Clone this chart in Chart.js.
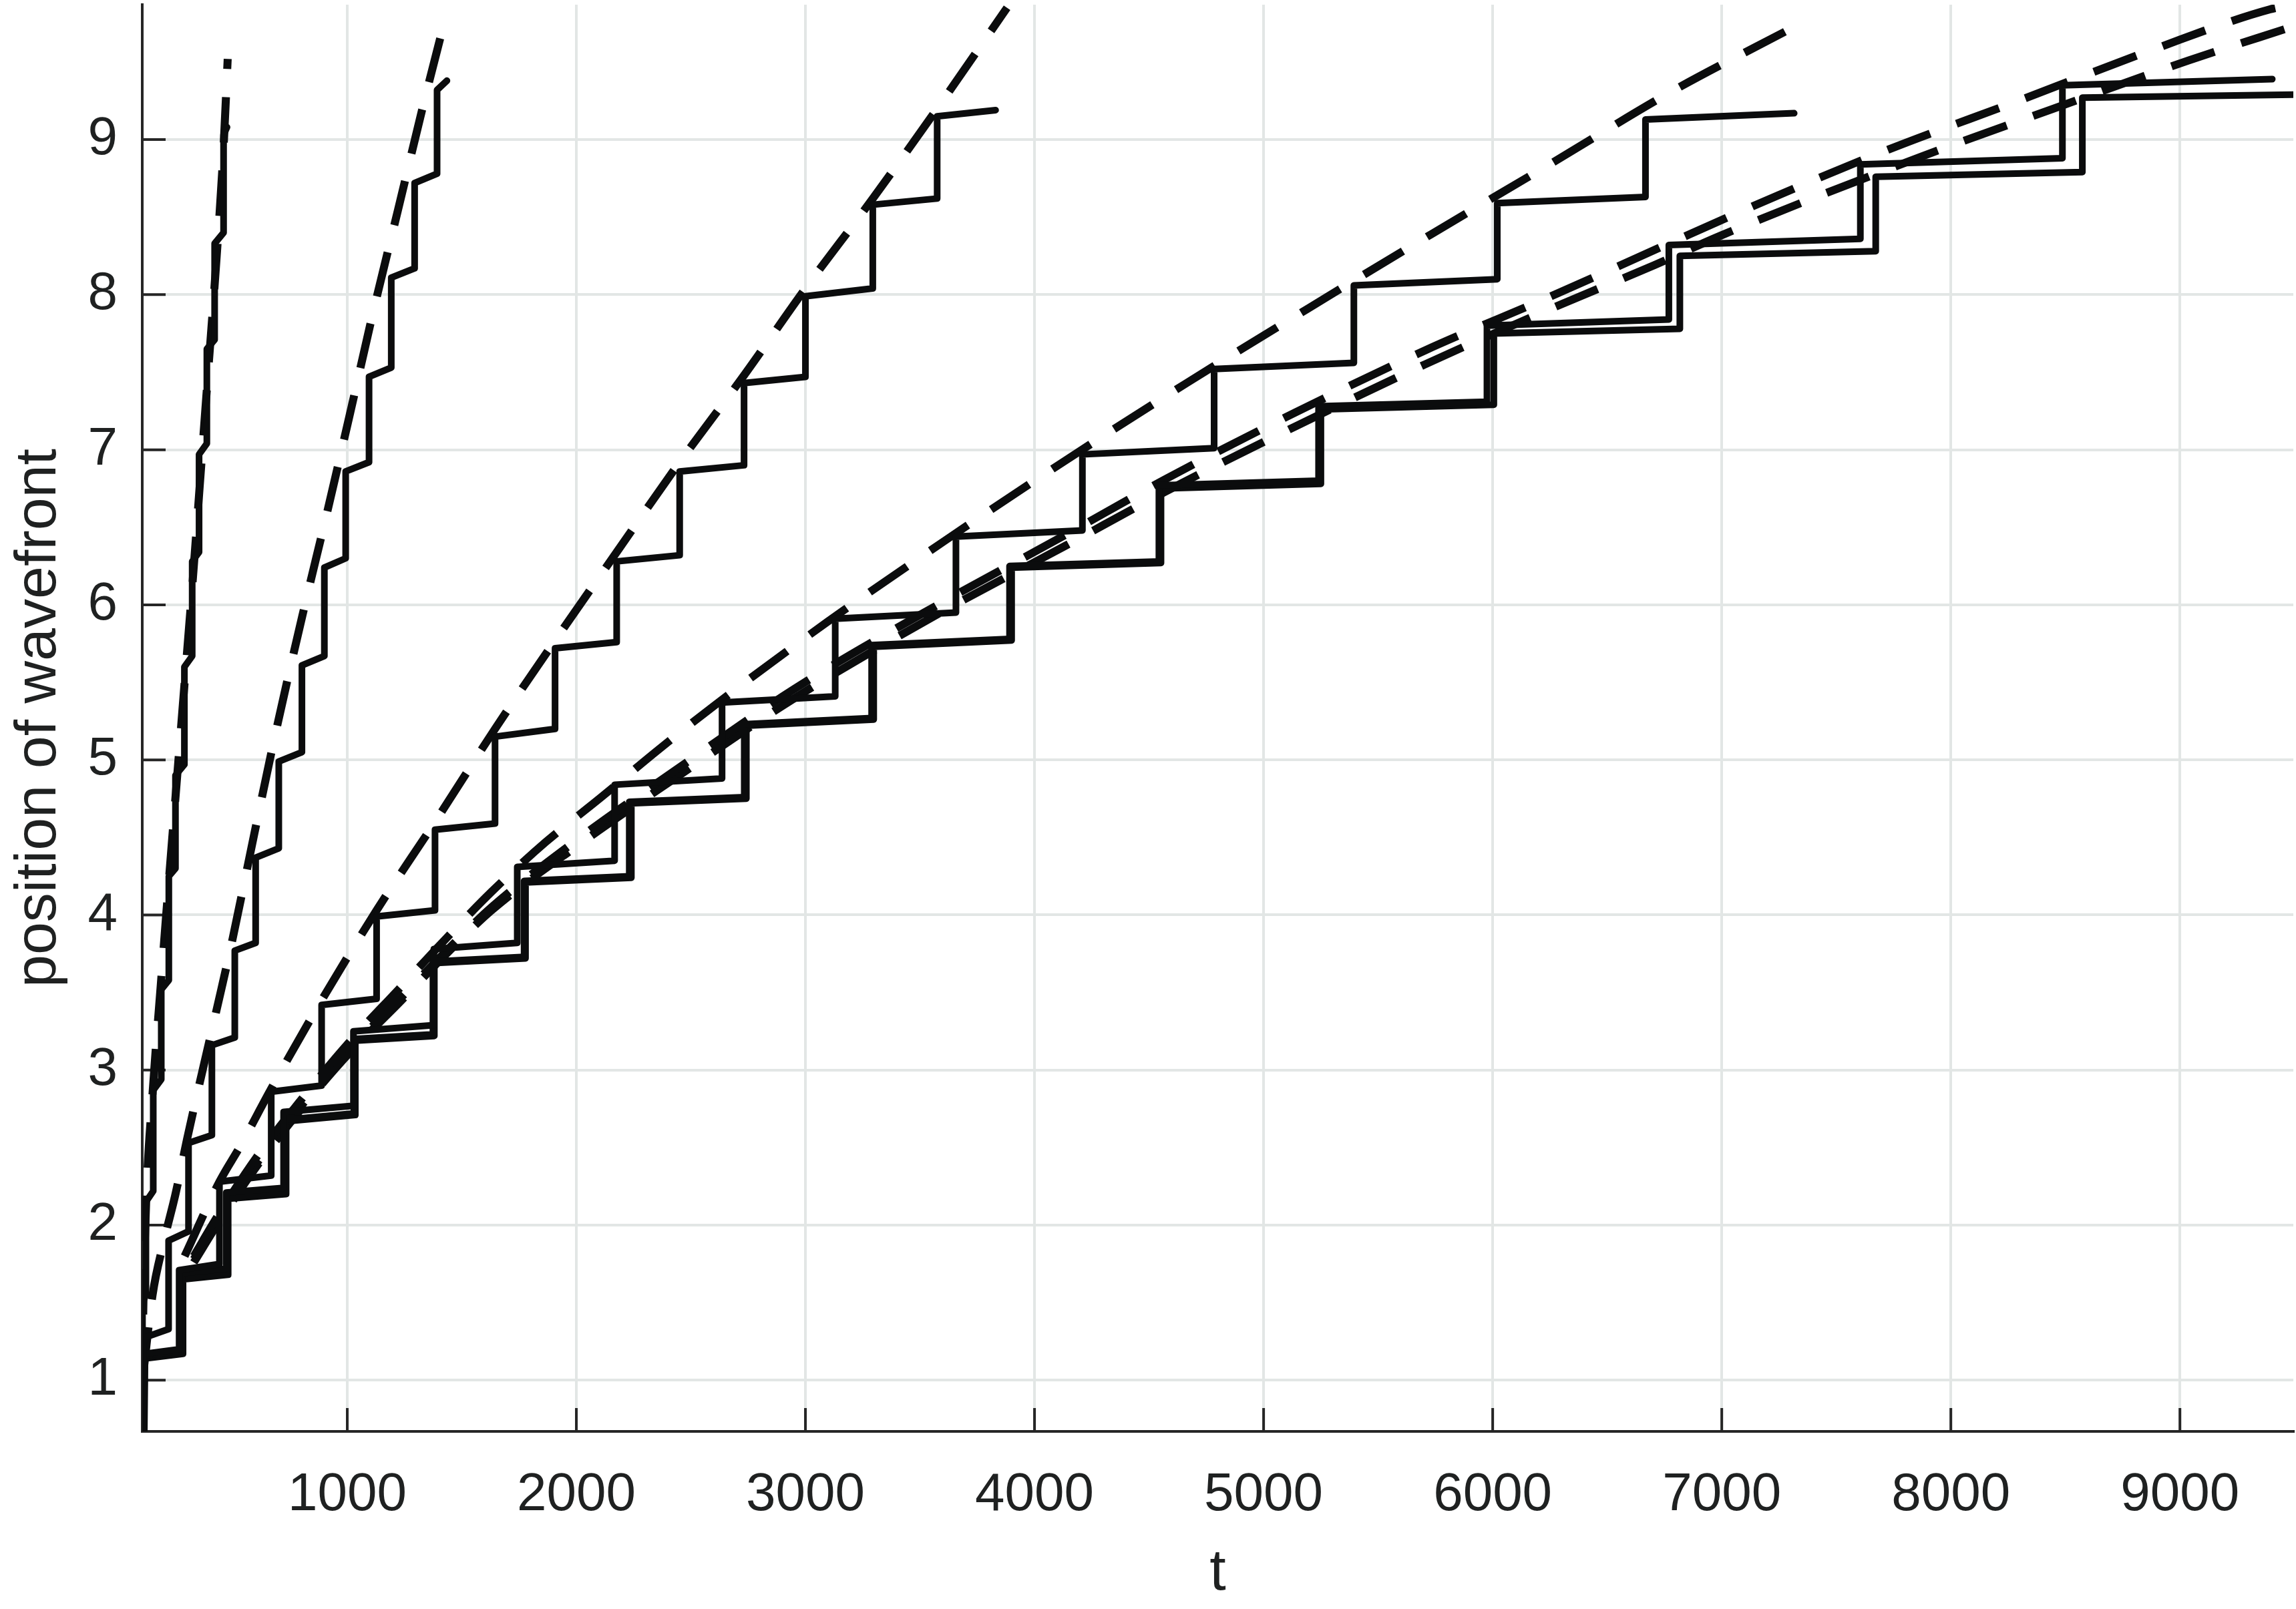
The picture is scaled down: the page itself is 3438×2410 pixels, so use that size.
<!DOCTYPE html>
<html>
<head>
<meta charset="utf-8">
<script src="https://cdn.jsdelivr.net/npm/chart.js@4.4.1/dist/chart.umd.min.js"></script>
<style>
  html, body { margin: 0; padding: 0; background: #fff; }
  #wrap { width: 3438px; height: 2410px; }
</style>
</head>
<body>
<div id="wrap"><canvas id="chart" width="3438" height="2410"></canvas></div>
<script>
// axis ranges and ticks
const xRange = [105, 9495];
const yRange = [0.67, 9.87];
const xTicks = [1000, 2000, 3000, 4000, 5000, 6000, 7000, 8000, 9000];
const yTicks = [1, 2, 3, 4, 5, 6, 7, 8, 9];

// measured wavefront positions (step curves), [t, position]
const stepA = [[105,0.68],[106,1.5],[121,1.55],[121,2.15],[153,2.22],[153,2.87],[188,2.94],[188,3.52],[221,3.58],
  [221,4.25],[250,4.3],[250,4.9],[289,4.97],[289,5.6],[323,5.67],[323,6.28],[353,6.34],[353,6.97],[387,7.04],
  [387,7.65],[421,7.71],[421,8.33],[460,8.4],[460,9.03],[475,9.08]];
const stepB = [[108,0.68],[110,1.25],[125,1.28],[220,1.33],[220,1.9],[307,1.96],[307,2.53],[409,2.58],[409,3.16],
  [509,3.21],[509,3.77],[600,3.82],[600,4.37],[701,4.43],[701,4.99],[802,5.05],[802,5.61],[900,5.67],[900,6.24],
  [993,6.3],[993,6.86],[1095,6.92],[1095,7.47],[1192,7.53],[1192,8.11],[1294,8.17],[1294,8.72],[1392,8.78],
  [1392,9.32],[1435,9.38]];
const stepC = [[110,0.68],[112,1.17],[266,1.2],[266,1.71],[442,1.75],[442,2.28],[668,2.32],[668,2.86],[888,2.9],
  [888,3.42],[1128,3.46],[1128,3.99],[1383,4.03],[1383,4.55],[1645,4.59],[1645,5.15],[1907,5.2],[1907,5.72],
  [2176,5.76],[2176,6.28],[2451,6.32],[2451,6.86],[2732,6.9],[2732,7.43],[3000,7.47],[3000,7.99],[3294,8.04],
  [3294,8.58],[3575,8.62],[3575,9.15],[3830,9.19]];
const stepD = [[112,0.68],[114,1.16],[279,1.19],[279,1.69],[472,1.72],[472,2.21],[722,2.24],[722,2.73],[1027,2.77],
  [1027,3.25],[1378,3.29],[1378,3.78],[1742,3.82],[1742,4.31],[2167,4.35],[2167,4.84],[2636,4.88],[2636,5.37],
  [3130,5.41],[3130,5.91],[3657,5.95],[3657,6.44],[4209,6.48],[4209,6.97],[4784,7.01],[4784,7.52],[5394,7.56],
  [5394,8.06],[6020,8.1],[6020,8.59],[6667,8.63],[6667,9.13],[7316,9.17]];
const stepE = [[112,0.68],[115,1.15],[279,1.18],[279,1.66],[475,1.69],[475,2.18],[729,2.21],[729,2.68],[1029,2.72],
  [1029,3.2],[1374,3.23],[1374,3.7],[1772,3.73],[1772,4.22],[2231,4.25],[2231,4.73],[2733,4.76],[2733,5.23],
  [3289,5.27],[3289,5.74],[3891,5.78],[3891,6.25],[4543,6.28],[4543,6.77],[5240,6.8],[5240,7.28],[5975,7.31],
  [5975,7.8],[6769,7.84],[6769,8.32],[7605,8.36],[7605,8.84],[8487,8.88],[8487,9.35],[9403,9.39]];
const stepF = [[114,0.68],[117,1.14],[283,1.17],[283,1.65],[480,1.68],[480,2.17],[733,2.2],[733,2.67],[1035,2.71],
  [1035,3.19],[1380,3.22],[1380,3.69],[1778,3.72],[1778,4.21],[2240,4.24],[2240,4.72],[2742,4.75],[2742,5.22],
  [3298,5.26],[3298,5.73],[3900,5.77],[3900,6.24],[4552,6.27],[4552,6.75],[5250,6.78],[5250,7.26],[6005,7.29],
  [6005,7.75],[6817,7.78],[6817,8.25],[7672,8.28],[7672,8.76],[8574,8.79],[8574,9.27],[9495,9.29]];

// fitted fronts (dashed)
const fitA = [[105,0.95],[110,1.5],[122,2.15],[150,2.85],[186,3.55],[220,4.2],[255,4.85],[290,5.5],[325,6.15],
  [360,6.85],[395,7.55],[430,8.25],[460,8.95],[478,9.52]];
const fitB = [[110,1.05],[150,1.55],[200,1.9],[250,2.2],[300,2.55],[350,2.88],[400,3.2],[450,3.52],[500,3.85],
  [595,4.53],[697,5.24],[804,5.93],[911,6.59],[1013,7.24],[1115,7.9],[1222,8.55],[1328,9.2],[1431,9.8]];
const fitC = [[290,1.8],[442,2.28],[533,2.51],[668,2.88],[888,3.45],[1128,4.03],[1383,4.6],[1645,5.2],[1907,5.77],
  [2176,6.34],[2451,6.92],[2732,7.48],[3000,8.04],[3294,8.62],[3575,9.2],[3880,9.85]];
const fitD = [[330,1.8],[435,2.06],[605,2.44],[794,2.8],[1003,3.17],[1224,3.52],[1413,3.82],[1630,4.15],[1866,4.47],
  [2109,4.76],[2345,5.05],[2602,5.35],[3096,5.89],[3615,6.42],[4134,6.93],[4664,7.43],[5193,7.91],[5732,8.39],
  [6271,8.86],[6769,9.3],[7320,9.73]];
const fitE = [[330,1.78],[435,2.03],[605,2.4],[794,2.76],[1003,3.12],[1224,3.45],[1413,3.74],[1630,4.05],[2017,4.5],
  [2429,4.93],[2954,5.46],[3590,6.01],[4134,6.45],[4571,6.81],[5138,7.24],[5704,7.64],[6271,8.0],[6769,8.33],
  [7245,8.64],[7717,8.93],[8295,9.25],[8882,9.58],[9393,9.84],[9495,9.87]];
const fitF = [[330,1.76],[435,2.01],[605,2.38],[794,2.74],[1003,3.1],[1224,3.43],[1413,3.72],[1630,4.03],[2017,4.46],
  [2429,4.88],[2954,5.4],[3590,5.95],[4134,6.38],[4571,6.73],[5138,7.15],[5704,7.55],[6271,7.92],[6705,8.19],
  [6994,8.38],[7871,8.89],[8449,9.2],[9037,9.51],[9495,9.73]];

const INK = '#0b0c0d';
const AXIS = '#262626';
const GRID = '#e2e6e5';
const TXT = '#1f2121';
const FONT = '"Liberation Sans", Arial, Helvetica, sans-serif';

function solid(pts) {
  return {
    data: pts.map(([x, y]) => ({ x, y })),
    borderColor: INK, borderWidth: 10, pointRadius: 0, tension: 0,
    borderJoinStyle: 'round', borderCapStyle: 'round', fill: false
  };
}
function dashed(pts) {
  return {
    data: pts.map(([x, y]) => ({ x, y })),
    borderColor: INK, borderWidth: 12, pointRadius: 0,
    cubicInterpolationMode: 'monotone', borderDash: [68, 42], borderCapStyle: 'butt', fill: false
  };
}

// MATLAB-like inward tick marks
const innerTicks = {
  id: 'innerTicks',
  beforeDatasetsDraw(chart) {
    const { ctx, chartArea: a, scales: { x, y } } = chart;
    const len = 35;
    ctx.save();
    ctx.strokeStyle = AXIS;
    ctx.lineWidth = 4;
    ctx.beginPath();
    for (const v of xTicks) {
      const px = x.getPixelForValue(v);
      ctx.moveTo(px, a.bottom); ctx.lineTo(px, a.bottom - len);
    }
    for (const v of yTicks) {
      const py = y.getPixelForValue(v);
      ctx.moveTo(a.left, py); ctx.lineTo(a.left + len, py);
    }
    ctx.stroke();
    ctx.restore();
  }
};

new Chart(document.getElementById('chart'), {
  type: 'line',
  data: {
    datasets: [
      solid(stepA), solid(stepB), solid(stepC), solid(stepD), solid(stepE), solid(stepF),
      dashed(fitA), dashed(fitB), dashed(fitC), dashed(fitD), dashed(fitE), dashed(fitF)
    ]
  },
  options: {
    responsive: false,
    animation: false,
    devicePixelRatio: 1,
    layout: { padding: { top: 7, right: 4, left: 0, bottom: 0 } },
    plugins: { legend: { display: false }, tooltip: { enabled: false } },
    scales: {
      x: {
        type: 'linear', min: xRange[0], max: xRange[1],
        afterBuildTicks: s => { s.ticks = xTicks.map(v => ({ value: v })); },
        afterFit: s => { s.height = 266; s.paddingLeft = 0; s.paddingRight = 0; },
        grid: { color: GRID, lineWidth: 4, drawTicks: false },
        border: { display: true, color: AXIS, width: 4 },
        ticks: { padding: 48, color: TXT, font: { family: FONT, size: 80 }, maxRotation: 0, autoSkip: false,
          callback: v => String(v) },
        title: { display: true, text: 't', color: TXT, font: { family: FONT, size: 88 }, padding: { top: 0, bottom: 0 } }
      },
      y: {
        type: 'linear', min: yRange[0], max: yRange[1],
        afterBuildTicks: s => { s.ticks = yTicks.map(v => ({ value: v })); },
        afterFit: s => { s.width = 213; s.paddingTop = 0; s.paddingBottom = 0; },
        grid: { color: GRID, lineWidth: 4, drawTicks: false },
        border: { display: true, color: AXIS, width: 4 },
        ticks: { padding: 37, color: TXT, font: { family: FONT, size: 80 }, autoSkip: false,
          callback: v => String(v) },
        title: { display: true, text: 'position of wavefront', color: TXT, font: { family: FONT, size: 88 },
          padding: { top: 6, bottom: 0 } }
      }
    }
  },
  plugins: [innerTicks]
});
</script>
</body>
</html>
